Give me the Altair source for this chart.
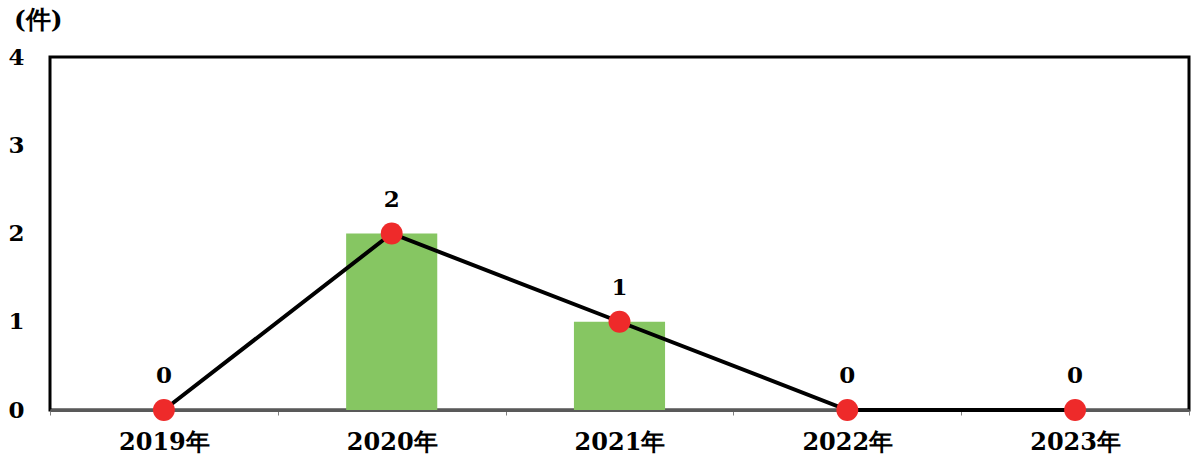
import altair as alt
import pandas as pd

years = ["2019年", "2020年", "2021年", "2022年", "2023年"]
bar_values = [0, 2, 1, 0, 0]
line_values = [0, 2, 1, 0, 0]
y_ticks = [0, 1, 2, 3, 4]
unit_label = "(件)"

df = pd.DataFrame({"year": years, "bar": bar_values, "line": line_values})

FONT = "DejaVu Serif"

x_enc = alt.X(
    "year:N",
    sort=years,
    title=None,
    scale=alt.Scale(paddingInner=0, paddingOuter=0),
    axis=alt.Axis(
        labelAngle=0,
        labelFont=FONT,
        labelFontWeight="bold",
        labelFontSize=24,
        labelColor="#000000",
        labelPadding=15,
        tickBand="extent",
        tickColor="#808080",
        tickSize=5,
        tickWidth=1,
        domainColor="#595959",
        domainWidth=3,
    ),
)

y_scale = alt.Scale(domain=[0, 4], nice=False, zero=True)
y_axis = alt.Axis(
    values=y_ticks,
    format="d",
    grid=False,
    ticks=False,
    domain=False,
    labelFont=FONT,
    labelFontWeight="bold",
    labelFontSize=23,
    labelColor="#000000",
    labelPadding=26,
    title=None,
)

base = alt.Chart(df)

bars = base.mark_bar(color="#86C662", width=alt.RelativeBandSize(0.4)).encode(
    x=x_enc,
    y=alt.Y("bar:Q", scale=y_scale, axis=y_axis),
)

line = base.mark_line(color="#000000", strokeWidth=4).encode(
    x=alt.X("year:N", sort=years),
    y=alt.Y("line:Q", scale=y_scale),
)

points = base.mark_point(filled=True, color="#EE2A2A", opacity=1, size=480, shape="circle").encode(
    x=alt.X("year:N", sort=years),
    y=alt.Y("line:Q", scale=y_scale),
)

labels = base.mark_text(
    font=FONT, fontWeight="bold", fontSize=23, color="#000000", dy=-34, baseline="middle"
).encode(
    x=alt.X("year:N", sort=years),
    y=alt.Y("line:Q", scale=y_scale),
    text=alt.Text("line:Q", format="d"),
)

chart = (
    alt.layer(bars, line, points, labels)
    .properties(
        width=1139,
        height=353,
        background="#ffffff",
        autosize=alt.AutoSizeParams(type="none"),
        padding={"left": 50, "top": 57, "right": 4, "bottom": 53},
        title=alt.TitleParams(
            unit_label,
            anchor="start",
            frame="group",
            font=FONT,
            fontWeight="bold",
            fontSize=25,
            color="#000000",
            dx=-36,
            offset=13,
        ),
    )
    .configure_view(stroke="#000000", strokeWidth=3)
)

chart.save("out.html", embed_options={"renderer": "svg", "actions": False})
